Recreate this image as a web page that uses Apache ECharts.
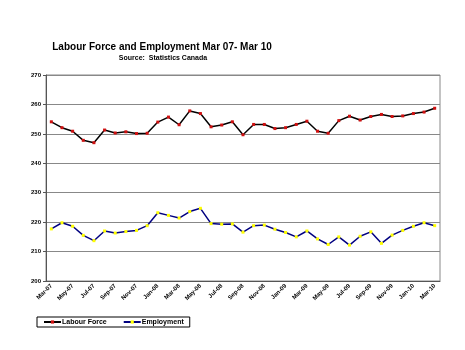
<!DOCTYPE html>
<html><head><meta charset="utf-8">
<script src="https://cdn.jsdelivr.net/npm/echarts@6/dist/echarts.min.js"></script>
<style>html,body{margin:0;padding:0;background:#fff}#c{width:465px;height:350px}</style>
</head><body><div id="c"></div>
<script>
const categories = ["Mar-07","Apr-07","May-07","Jun-07","Jul-07","Aug-07","Sep-07","Oct-07","Nov-07","Dec-07",
"Jan-08","Feb-08","Mar-08","Apr-08","May-08","Jun-08","Jul-08","Aug-08","Sep-08","Oct-08","Nov-08","Dec-08",
"Jan-09","Feb-09","Mar-09","Apr-09","May-09","Jun-09","Jul-09","Aug-09","Sep-09","Oct-09","Nov-09","Dec-09",
"Jan-10","Feb-10","Mar-10"];
const labourForce = [254.1,252.1,250.9,247.8,247.0,251.3,250.3,250.7,250.1,250.2,
254.0,255.7,253.1,257.8,256.9,252.4,253.0,254.1,249.7,253.2,253.2,251.8,
252.1,253.2,254.3,250.9,250.2,254.5,256.0,254.7,255.9,256.6,255.9,256.1,
256.9,257.4,258.7];
const employment = [217.7,219.8,218.6,215.5,213.7,217.0,216.3,216.8,217.2,218.8,
223.2,222.3,221.4,223.6,224.7,219.5,219.3,219.4,216.6,218.8,219.0,217.6,
216.5,215.0,217.0,214.3,212.4,215.0,212.2,215.2,216.7,212.8,215.6,217.2,
218.6,219.8,218.8];
const yTicks = [200,210,220,230,240,250,260,270];

const F = '"Liberation Sans", Arial, sans-serif';
const chart = echarts.init(document.getElementById('c'), null, {renderer:'canvas'});
chart.setOption({
  animation:false,
  backgroundColor:'#fff',
  title:[
    {text:'Labour Force and Employment Mar 07- Mar 10', left:157, top:37, textAlign:'center',
     textStyle:{fontFamily:F,fontWeight:'bold',fontSize:10,color:'#000'}},
    {text:'Source:  Statistics Canada', left:158, top:50, textAlign:'center',
     textStyle:{fontFamily:F,fontWeight:'bold',fontSize:7,color:'#000'}}
  ],
  legend:{
    orient:'horizontal',
    left:37, top:317,
    data:[
      {name:'Labour Force', lineStyle:{color:'#000'}, itemStyle:{color:'#d01010'}},
      {name:'Employment', lineStyle:{color:'#000080'}, itemStyle:{color:'#ffff00'}}
    ],
    itemWidth:17, itemHeight:4, itemGap:16,
    padding:[1.5,6,1.5,6],
    borderColor:'#000', borderWidth:1,
    textStyle:{fontFamily:F,fontWeight:'bold',fontSize:7,color:'#000',padding:[0,0,0,-4]}
  },
  grid:{left:46,right:25,top:75,bottom:69,show:true,borderColor:'#888',borderWidth:1},
  xAxis:{
    type:'category', data:categories, boundaryGap:true,
    axisLine:{lineStyle:{color:'#555',width:1}},
    axisTick:{interval:1,length:3,lineStyle:{color:'#555'}},
    axisLabel:{interval:1,rotate:45,fontFamily:F,fontWeight:'bold',fontSize:6,color:'#000',margin:4}
  },
  yAxis:{
    type:'value', min:yTicks[0], max:yTicks[yTicks.length-1], interval:10,
    axisLine:{show:true,lineStyle:{color:'#555',width:1}},
    axisTick:{show:true,length:3,lineStyle:{color:'#555'}},
    splitLine:{lineStyle:{color:'#888',width:1}},
    axisLabel:{fontFamily:F,fontWeight:'bold',fontSize:6,color:'#000',margin:5}
  },
  series:[
    {name:'Labour Force',type:'line',data:labourForce,symbol:'rect',symbolSize:3,
     lineStyle:{color:'#000',width:1.5},itemStyle:{color:'#d01010',borderWidth:0},
     color:'#d01010'},
    {name:'Employment',type:'line',data:employment,symbol:'rect',symbolSize:3,
     lineStyle:{color:'#000080',width:1.5},itemStyle:{color:'#ffff00',borderWidth:0},
     color:'#ffff00'}
  ]
});
</script></body></html>
